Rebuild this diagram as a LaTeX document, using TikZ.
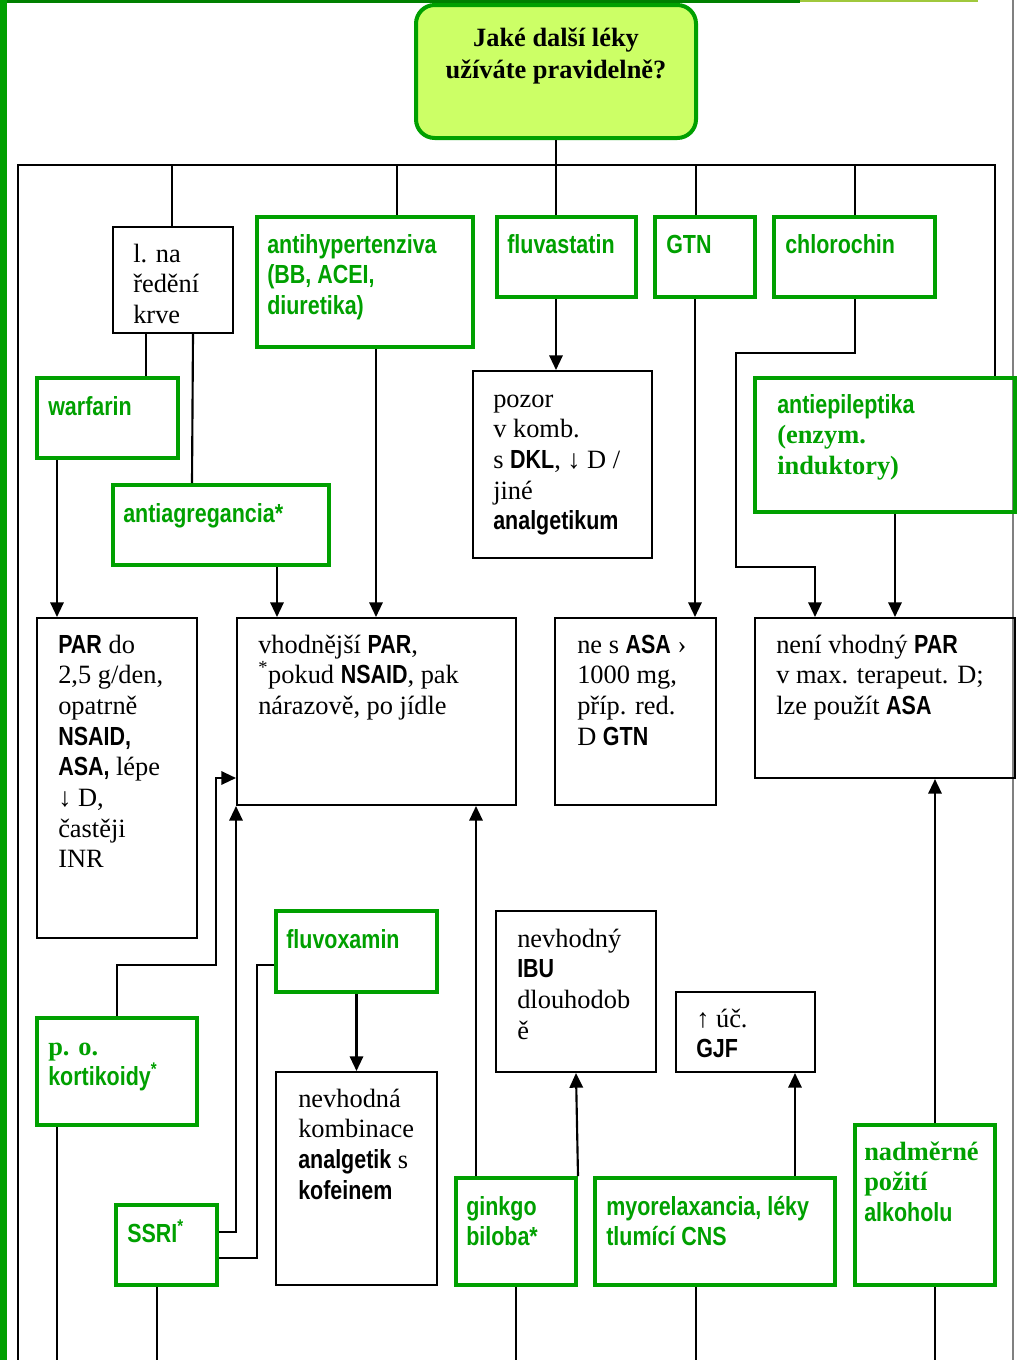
\documentclass[tikz,border=0pt]{standalone}
\usepackage{fontspec}
\usepackage{graphicx}
\setmainfont{Liberation Serif}
\newfontfamily\sansf{Liberation Sans}
\usetikzlibrary{arrows.meta}
\definecolor{gr}{RGB}{0,160,0}
\definecolor{rootfill}{RGB}{204,255,102}
\definecolor{topgr}{RGB}{0,128,0}
\definecolor{topgr2}{RGB}{160,200,60}
\newcommand\sz{\fontsize{19.8pt}{23pt}\selectfont\lineskiplimit=-50pt}
\newcommand\sbold[1]{\scalebox{1}[1.22]{\sansf\bfseries\fontsize{16.1pt}{23pt}\selectfont #1}}
\newcommand\mkbox[6]{\node[#6, minimum width={(#4-#2)*0.75pt}, minimum height={(#5-#3)*0.75pt}] (#1) at ({(#2+#4)/2},{(#3+#5)/2}) {};}
\newcommand\tx[5][]{\node[txt,#1] (#2) at (#3,{#4-21.5}) {\strut #5};}
\tikzset{
  bbox/.style={draw=black, line width=1.5pt, rectangle, inner sep=0pt},
  gbox/.style={draw=gr, line width=3pt, rectangle, inner sep=0pt},
  txt/.style={anchor=north west, inner sep=0pt, align=left, font=\sz},
  conn/.style={line width=1.6pt},
  arr/.style={conn, -{Triangle[length=11pt,width=10pt]}},
}
\begin{document}
\begin{tikzpicture}[x=0.75pt,y=-0.75pt]
\useasboundingbox (0,0) rectangle (1026,1360);
% page decorations
\fill[topgr] (0,0) rectangle (800,2.5);
\fill[topgr2] (800,0) rectangle (978,2);
\fill[gr] (0,0) rectangle (7,1360);
\draw[gray, line width=0.8pt] (1013,0) -- (1013,1360);

% root
\node[draw=gr, line width=3pt, fill=rootfill, rounded corners=14pt, inner sep=0pt,
      minimum width={280*0.75pt}, minimum height={133*0.75pt}] (root) at (556,71.5) {};
\node[anchor=north, inner sep=0pt, align=center, font={\fontsize{19.8pt}{24pt}\selectfont\bfseries}] (roott) at (556,{45-21.5}) {\strut Jaké další léky\\užíváte pravidelně?};

% boxes
\mkbox{lna}{113}{227}{233}{333}{bbox}
\mkbox{antihyp}{257}{217}{473}{347}{gbox}
\mkbox{fluva}{497}{217}{636}{297}{gbox}
\mkbox{gtn}{655}{217}{755}{297}{gbox}
\mkbox{chloro}{774}{217}{935}{297}{gbox}
\mkbox{warf}{37}{378}{178}{458}{gbox}
\mkbox{antiag}{113}{485}{329}{565}{gbox}
\mkbox{pozor}{473}{371}{652}{558}{bbox}
\mkbox{antiep}{755}{378}{1015}{512}{gbox}
\mkbox{par}{37}{618}{197}{938}{bbox}
\mkbox{vhod}{237}{618}{516}{805}{bbox}
\mkbox{nesasa}{555}{618}{716}{805}{bbox}
\mkbox{neni}{755}{618}{1015}{778}{bbox}
\mkbox{fluvox}{276}{911}{437}{992}{gbox}
\mkbox{ibu}{496}{911}{656}{1072}{bbox}
\mkbox{gjf}{676}{992}{815}{1072}{bbox}
\mkbox{kort}{37}{1018}{197}{1125}{gbox}
\mkbox{nevk}{276}{1072}{437}{1285}{bbox}
\mkbox{ssri}{116}{1205}{217}{1285}{gbox}
\mkbox{ginkgo}{456}{1178}{576}{1285}{gbox}
\mkbox{myo}{595}{1178}{835}{1285}{gbox}
\mkbox{alk}{855}{1125}{995}{1285}{gbox}

% texts
\tx{tlna}{133}{262}{l. na\\ředění\\krve}
\tx[text=gr]{tantihyp}{267}{253}{\sbold{antihypertenziva}\\\sbold{(BB, ACEI,}\\\sbold{diuretika)}}
\tx[text=gr]{tfluva}{507}{253}{\sbold{fluvastatin}}
\tx[text=gr]{tgtn}{666}{253}{\sbold{GTN}}
\tx[text=gr]{tchloro}{785}{253}{\sbold{chlorochin}}
\tx[text=gr]{twarf}{48}{415}{\sbold{warfarin}}
\tx[text=gr]{tantiag}{123}{522}{\sbold{antiagregancia*}}
\tx{tpozor}{493}{407}{pozor\\v komb.\\s \sbold{DKL}, ↓ D /\\jiné\\\sbold{analgetikum}}
\tx[text=gr]{tantiep}{777}{413}{\sbold{antiepileptika}\\\textbf{(enzym.}\\\textbf{induktory)}}
\tx{tpar}{58}{653}{\sbold{PAR} do\\2,5 g/den,\\opatrně\\\sbold{NSAID,}\\\sbold{ASA,} lépe\\↓ D,\\častěji\\INR}
\tx{tvhod}{258}{653}{vhodnější \sbold{PAR},\\\textsuperscript{*}pokud \sbold{NSAID}, pak\\nárazově, po jídle}
\tx{tnesasa}{577}{653}{ne s \sbold{ASA} ›\\1000 mg,\\příp. red.\\D \sbold{GTN}}
\tx{tneni}{776}{653}{není vhodný \sbold{PAR}\\v max. terapeut. D;\\lze použít \sbold{ASA}}
\tx[text=gr]{tfluvox}{286}{948}{\sbold{fluvoxamin}}
\tx{tibu}{517}{947}{nevhodný\\\sbold{IBU}\\dlouhodob\\ě}
\tx{tgjf}{696}{1027}{↑ úč.\\\sbold{GJF}}
\tx[text=gr]{tkort}{48}{1055}{\textbf{p. o.}\\\sbold{kortikoidy\textsuperscript{*}}}
\tx{tnevk}{298}{1107}{nevhodná\\kombinace\\\sbold{analgetik} s\\\sbold{kofeinem}}
\tx[text=gr]{tssri}{127}{1241}{\sbold{SSRI\textsuperscript{*}}}
\tx[text=gr]{tginkgo}{466}{1215}{\sbold{ginkgo}\\\sbold{biloba*}}
\tx[text=gr]{tmyo}{606}{1215}{\sbold{myorelaxancia, léky}\\\sbold{tlumící CNS}}
\tx[text=gr]{talk}{864}{1160}{\textbf{nadměrné}\\\textbf{požití}\\\sbold{alkoholu}}

% bus
\coordinate (bus) at (556,165);
\coordinate (botL) at (18,1360);
\draw[conn] (root.south) -- (bus);
\draw[conn] (bus) -| (lna.north -| 172,0);
\draw[conn] (bus) -| (antihyp.north -| 397,0);
\draw[conn] (bus) -- (fluva.north -| 556,0);
\draw[conn] (bus) -| (gtn.north -| 696,0);
\draw[conn] (bus) -| (chloro.north -| 855,0);
\draw[conn] (bus) -| (botL);
\draw[conn] (bus) -| (antiep.north -| 995,0);

% connectors
\draw[conn] (lna.south -| 146,0) -- (warf.north -| 146,0);
\draw[conn] (lna.south -| 193,0) -- (antiag.north -| 192,0);
\draw[arr] (warf.south -| 57,0) -- (par.north -| 57,0);
\draw[arr] (antiag.south -| 277,0) -- (vhod.north -| 277,0);
\draw[arr] (antihyp.south -| 376,0) -- (vhod.north -| 376,0);
\draw[arr] (fluva.south -| 556,0) -- (pozor.north -| 556,0);
\draw[arr] (gtn.south -| 695,0) -- (nesasa.north -| 695,0);
\draw[arr] (chloro.south -| 855,0) -- ++(0,54) -- ++(-119,0) -- ++(0,214) -- ++(79,0) -- (neni.north -| 815,0);
\draw[arr] (antiep.south -| 895,0) -- (neni.north -| 895,0);
\draw[arr] (alk.north -| 935,0) -- (neni.south -| 935,0);
\draw[arr] (kort.north -| 117,0) |- (216,965) |- (vhod.west |- 0,778);
\draw[arr] (ssri.east |- 0,1232) -| (vhod.south west);
\draw[conn] (ssri.east |- 0,1258) -| (257,965) -- (fluvox.west |- 0,965);
\draw[arr] (fluvox.south) -- (nevk.north);
\draw[arr] (ginkgo.north -| 476,0) -- (vhod.south -| 476,0);
\draw[arr] (ginkgo.north east) -- (ibu.south);
\draw[arr] (myo.north -| 795,0) -- (gjf.south -| 795,0);

% lines leaving the page
\coordinate (b1) at (57,1360);
\coordinate (b2) at (157,1360);
\coordinate (b3) at (516,1360);
\coordinate (b4) at (696,1360);
\coordinate (b5) at (935,1360);
\draw[conn] (kort.south -| b1) -- (b1);
\draw[conn] (ssri.south -| b2) -- (b2);
\draw[conn] (ginkgo.south -| b3) -- (b3);
\draw[conn] (myo.south -| b4) -- (b4);
\draw[conn] (alk.south -| b5) -- (b5);
\end{tikzpicture}
\end{document}
